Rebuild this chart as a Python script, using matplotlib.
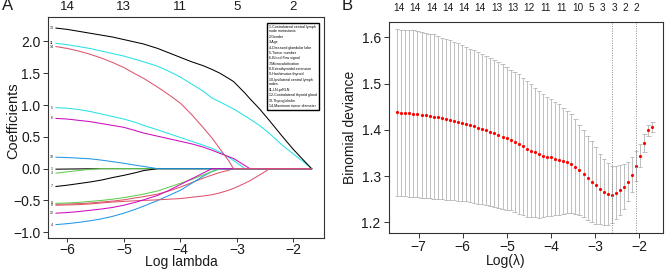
import matplotlib
matplotlib.use('Agg')
import matplotlib.pyplot as plt
from matplotlib.lines import Line2D

plt.rcParams['font.family'] = ['Liberation Sans', 'DejaVu Sans']

# ---------------- Panel A data (coefficient paths) ----------------
loglam_A = [-6.2, -6.0, -5.8, -5.6, -5.4, -5.2, -5.0, -4.8, -4.65, -4.4, -4.2, -4.0, -3.8,
            -3.6, -3.44, -3.3, -3.15, -3.06, -2.86, -2.77, -2.6, -2.42, -2.2, -2.0, -1.84, -1.68]

coef_v1 = [-0.008, -0.006, -0.004, -0.002, 0, 0, 0, 0, 0, 0, 0, 0, 0, 0, 0, 0, 0, 0, 0, 0, 0, 0, 0, 0, 0, 0]
coef_v2 = [-0.56, -0.555, -0.55, -0.54, -0.525, -0.51, -0.49, -0.46, -0.44, -0.40, -0.35, -0.29, -0.22,
           -0.15, -0.10, -0.06, -0.025, 0, 0, 0, 0, 0, 0, 0, 0, 0]
coef_v3 = [-0.07, -0.05, -0.03, -0.01, 0, 0, 0, 0, 0, 0, 0, 0, 0, 0, 0, 0, 0, 0, 0, 0, 0, 0, 0, 0, 0, 0]
coef_v4 = [-0.88, -0.865, -0.845, -0.82, -0.79, -0.75, -0.70, -0.64, -0.59, -0.50, -0.42, -0.34, -0.23,
           -0.12, -0.045, 0, 0, 0, 0, 0, 0, 0, 0, 0, 0, 0]
coef_v5 = [0.96, 0.95, 0.93, 0.90, 0.86, 0.82, 0.78, 0.73, 0.68, 0.61, 0.55, 0.49, 0.43,
           0.37, 0.32, 0.26, 0.18, 0.13, 0, 0, 0, 0, 0, 0, 0, 0]
coef_v6 = [0.79, 0.78, 0.76, 0.74, 0.71, 0.68, 0.65, 0.60, 0.56, 0.51, 0.47, 0.43, 0.39,
           0.34, 0.29, 0.24, 0.19, 0.16, 0.05, 0, 0, 0, 0, 0, 0, 0]
coef_v7 = [-0.28, -0.26, -0.235, -0.21, -0.18, -0.14, -0.105, -0.065, -0.03, 0, 0, 0, 0,
           0, 0, 0, 0, 0, 0, 0, 0, 0, 0, 0, 0, 0]
coef_v8 = [-0.575, -0.57, -0.565, -0.555, -0.54, -0.525, -0.515, -0.505, -0.50, -0.49, -0.48, -0.47, -0.45,
           -0.43, -0.41, -0.38, -0.34, -0.31, -0.23, -0.19, -0.10, 0, 0, 0, 0, 0]
coef_v9 = [-0.545, -0.54, -0.53, -0.515, -0.50, -0.48, -0.455, -0.425, -0.40, -0.35, -0.29, -0.23, -0.17,
           -0.10, -0.045, 0, 0, 0, 0, 0, 0, 0, 0, 0, 0, 0]
coef_v10 = [0.18, 0.175, 0.165, 0.155, 0.135, 0.11, 0.085, 0.055, 0.035, 0, 0, 0, 0,
            0, 0, 0, 0, 0, 0, 0, 0, 0, 0, 0, 0, 0]
coef_v11 = [1.97, 1.95, 1.92, 1.89, 1.85, 1.81, 1.77, 1.72, 1.68, 1.61, 1.53, 1.44, 1.33,
            1.22, 1.11, 1.05, 0.98, 0.94, 0.83, 0.78, 0.68, 0.55, 0.37, 0.23, 0.12, 0]
coef_v12 = [-0.70, -0.69, -0.675, -0.655, -0.635, -0.61, -0.575, -0.53, -0.49, -0.42, -0.34, -0.25, -0.16,
            -0.07, 0, 0, 0, 0, 0, 0, 0, 0, 0, 0, 0, 0]
coef_v13 = [2.21, 2.19, 2.16, 2.13, 2.10, 2.07, 2.03, 1.99, 1.96, 1.89, 1.82, 1.75, 1.68,
            1.62, 1.56, 1.50, 1.42, 1.37, 1.19, 1.10, 0.94, 0.75, 0.51, 0.30, 0.15, 0]
coef_v14 = [1.92, 1.89, 1.85, 1.80, 1.74, 1.67, 1.59, 1.49, 1.42, 1.28, 1.16, 1.03, 0.85,
            0.65, 0.48, 0.31, 0.13, 0, 0, 0, 0, 0, 0, 0, 0, 0]

top_ticks_A = [-6, -5, -4, -3, -2]
top_labels_A = ['14', '13', '11', '5', '2']

legend_A = ['1-Contralateral central lymph\nnode metastasis', '2-Gender', '3-Age',
            '4-Diseased glandular lobe', '5-Tumor number', '6-Blood flow signal',
            '7-Microcalcification', '8-Extrathyroidal extension', '9-Hashimotos thyroid',
            '10-Ipsilateral central lymph\nnodes', '11-LN-prRLN', '12-Contralateral thyroid gland',
            '13-Thyroglobulin', '14-Maximum tumor diameter']

# ---------------- Panel B data (cross-validation) ----------------
loglam_B = [-7.488, -7.396, -7.304, -7.212, -7.120, -7.028, -6.936, -6.844, -6.752, -6.661,
            -6.569, -6.477, -6.385, -6.293, -6.201, -6.109, -6.017, -5.925, -5.833, -5.741,
            -5.649, -5.557, -5.465, -5.373, -5.281, -5.190, -5.098, -5.006, -4.914, -4.822,
            -4.730, -4.638, -4.546, -4.454, -4.362, -4.270, -4.178, -4.086, -3.994, -3.902,
            -3.810, -3.718, -3.627, -3.535, -3.443, -3.351, -3.259, -3.167, -3.075, -2.983,
            -2.891, -2.799, -2.707, -2.615, -2.523, -2.431, -2.339, -2.247, -2.156, -2.064,
            -1.972, -1.880, -1.788, -1.696]
cvm_B = [1.4375, 1.4368, 1.4361, 1.4354, 1.4347, 1.4339, 1.4325, 1.4310, 1.4296, 1.4282,
         1.4267, 1.4245, 1.4231, 1.4209, 1.4188, 1.4166, 1.4144, 1.4123, 1.4094, 1.4072,
         1.4043, 1.4014, 1.3986, 1.3957, 1.3921, 1.3884, 1.3848, 1.3812, 1.3776, 1.3733,
         1.3686, 1.3640, 1.3588, 1.3545, 1.3509, 1.3473, 1.3444, 1.3422, 1.3401, 1.3379,
         1.3357, 1.3329, 1.3307, 1.3264, 1.3206, 1.3134, 1.3047, 1.2960, 1.2881, 1.2801,
         1.2722, 1.2657, 1.2606, 1.2599, 1.2643, 1.2708, 1.2773, 1.2881, 1.3025, 1.3220,
         1.3444, 1.3718, 1.3986, 1.4065]
cvsd_B = [0.180, 0.180, 0.180, 0.180, 0.180, 0.180, 0.180, 0.179, 0.178, 0.178,
          0.176, 0.175, 0.174, 0.173, 0.171, 0.170, 0.168, 0.167, 0.166, 0.165,
          0.164, 0.162, 0.161, 0.160, 0.159, 0.158, 0.157, 0.154, 0.152, 0.151,
          0.151, 0.149, 0.147, 0.144, 0.140, 0.137, 0.132, 0.129, 0.127, 0.123,
          0.119, 0.115, 0.111, 0.107, 0.103, 0.097, 0.094, 0.090, 0.087, 0.083,
          0.075, 0.071, 0.067, 0.062, 0.058, 0.054, 0.048, 0.043, 0.038, 0.033,
          0.025, 0.020, 0.011, 0.011]
lambda_min_B = -2.615
lambda_1se_B = -2.064
top_pos_B = [-7.442, -7.075, -6.705, -6.338, -5.968, -5.601, -5.234, -4.864, -4.497,
             -4.127, -3.760, -3.392, -3.079, -2.823, -2.567, -2.308, -2.052]
top_labels_B = ['14', '14', '14', '14', '14', '14', '13', '13', '12', '11', '11', '10',
                '5', '3', '3', '2', '2']

# ---------------- styling ----------------
palette = ['#000000', '#DF536B', '#61D04F', '#2297E6', '#28E2E5', '#CD0BBC']
W, H = 665, 269
fig = plt.figure(figsize=(W / 100, H / 100), dpi=100)
txt = '#1a1a1a'
frame = '#333333'


def ax_rect(l, t, r, b):
    return [l / W, 1 - b / H, (r - l) / W, (b - t) / H]


# ---- Panel A ----
A_l, A_t, A_r, A_b = 47.5, 17.3, 324.3, 238.3
axA = fig.add_axes(ax_rect(A_l, A_t, A_r, A_b))
coefs = [coef_v1, coef_v2, coef_v3, coef_v4, coef_v5, coef_v6, coef_v7, coef_v8, coef_v9,
         coef_v10, coef_v11, coef_v12, coef_v13, coef_v14]
for i, c in enumerate(coefs):
    axA.plot(loglam_A, c, color=palette[i % 6], lw=0.75)
for i, c in enumerate(coefs):
    if i + 1 in (2,):
        continue
    axA.text(-6.275, c[0], str(i + 1), fontsize=2.6, ha='center', va='center', color=txt)
axA.set_xlim(-6.35, -1.455)
axA.set_ylim(-1.095, 2.38)
axA.set_xticks([-6, -5, -4, -3, -2])
axA.set_xticklabels(['\u22126', '\u22125', '\u22124', '\u22123', '\u22122'])
axA.set_yticks([-1.0, -0.5, 0.0, 0.5, 1.0, 1.5, 2.0])
axA.set_yticklabels(['\u22121.0', '\u22120.5', '0.0', '0.5', '1.0', '1.5', '2.0'])
axA.tick_params(axis='both', labelsize=10, length=3.6, width=0.7, color=frame, labelcolor=txt, pad=1.5)
axA.tick_params(axis='x', pad=0.0, length=3.2)
for s in axA.spines.values():
    s.set_color(frame)
    s.set_linewidth(0.8)
fig.text(181 / W, 1 - 268.8 / H, 'Log lambda', fontsize=10, color=txt,
         ha='center', va='bottom')
fig.text(13 / W, 1 - 121 / H, 'Coefficients', fontsize=10.5, color=txt,
         ha='center', va='center', rotation=90)
topA = axA.twiny()
topA.set_xlim(axA.get_xlim())
topA.set_xticks(top_ticks_A)
topA.set_xticklabels(top_labels_A)
topA.tick_params(axis='x', length=0, labelsize=9.5, labelcolor=txt, pad=3)
for s in topA.spines.values():
    s.set_visible(False)

handles = [Line2D([], [], lw=0) for _ in legend_A]
leg = axA.legend(handles, legend_A, loc='upper right', bbox_to_anchor=(0.987, 0.982),
                 fontsize=2.6, handlelength=0, handletextpad=0, labelspacing=0.38,
                 borderpad=0.5, frameon=True, fancybox=False, framealpha=1)
leg.get_frame().set_edgecolor('#000000')
leg.get_frame().set_linewidth(1.0)

fig.text(2 / W, 1 - 6 / H, 'A', fontsize=12, ha='left', va='center', color=txt)

# ---- Panel B ----
B_l, B_t, B_r, B_b = 388.5, 21.7, 663.3, 233.3
axB = fig.add_axes(ax_rect(B_l, B_t, B_r, B_b))
lo = [m - s for m, s in zip(cvm_B, cvsd_B)]
hi = [m + s for m, s in zip(cvm_B, cvsd_B)]
grey = '#B4B4B4'
axB.vlines(loglam_B, lo, hi, color=grey, lw=0.6)
capw = 0.05
axB.hlines(lo, [x - capw for x in loglam_B], [x + capw for x in loglam_B], color=grey, lw=0.6)
axB.hlines(hi, [x - capw for x in loglam_B], [x + capw for x in loglam_B], color=grey, lw=0.6)
axB.plot(loglam_B, cvm_B, 'o', color='#FF0000', ms=2.3, mew=0)
axB.axvline(lambda_min_B, color='#888888', lw=0.7, ls=(0, (1, 1.5)))
axB.axvline(lambda_1se_B, color='#888888', lw=0.7, ls=(0, (1, 1.5)))
axB.set_xlim(-7.685, -1.449)
axB.set_ylim(1.1762, 1.6337)
axB.set_xticks([-7, -6, -5, -4, -3, -2])
axB.set_xticklabels(['\u22127', '\u22126', '\u22125', '\u22124', '\u22123', '\u22122'])
axB.set_yticks([1.2, 1.3, 1.4, 1.5, 1.6])
axB.set_yticklabels(['1.2', '1.3', '1.4', '1.5', '1.6'])
axB.tick_params(axis='both', labelsize=10, length=3.6, width=0.7, color=frame, labelcolor=txt, pad=2)
axB.tick_params(axis='x', pad=1.2)
for s in axB.spines.values():
    s.set_color(frame)
    s.set_linewidth(0.8)
fig.text(506 / W, 1 - 260.5 / H, 'Log(\u03bb)', fontsize=10, color=txt,
         ha='center', va='center')
fig.text(350 / W, 1 - 127 / H, 'Binomial deviance', fontsize=10, color=txt,
         ha='center', va='center', rotation=90)
topB = axB.twiny()
topB.set_xlim(axB.get_xlim())
topB.set_xticks(top_pos_B)
topB.set_xticklabels(top_labels_B)
topB.tick_params(axis='x', length=0, labelsize=7.2, labelcolor=txt, pad=6.5)
for s in topB.spines.values():
    s.set_visible(False)

fig.text(342 / W, 1 - 6 / H, 'B', fontsize=12, ha='left', va='center', color=txt)

fig.savefig('out.png', dpi=100)
